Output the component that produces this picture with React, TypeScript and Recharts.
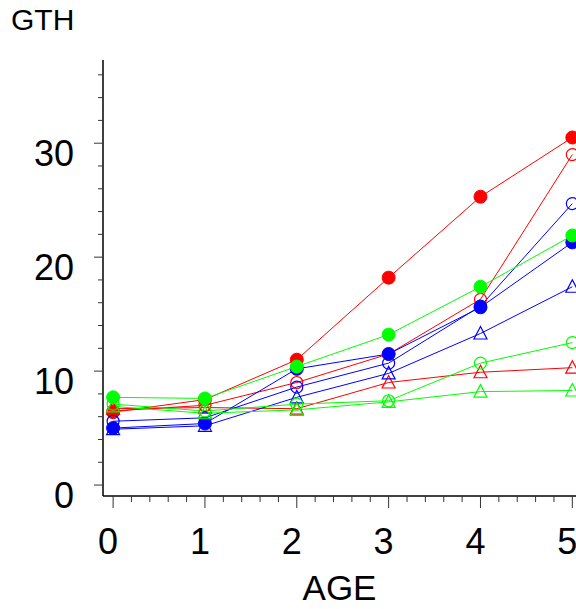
import { LineChart, Line, XAxis, YAxis } from "recharts";

const ages = [0, 1, 2, 3, 4, 5];

const redFilled = [6.4, 7.5, 11.0, 18.2, 25.3, 30.5];
const redOpen = [6.5, 7.0, 9.0, 11.5, 16.3, 29.0];
const redTri = [6.7, 6.8, 6.7, 9.0, 9.9, 10.3];
const greenFilled = [7.7, 7.6, 10.4, 13.2, 17.4, 21.9];
const greenOpen = [7.1, 6.5, 7.1, 7.4, 10.7, 12.5];
const greenTri = [6.9, 6.3, 6.6, 7.3, 8.2, 8.3];
const blueFilled = [5.0, 5.4, 10.2, 11.5, 15.6, 21.3];
const blueOpen = [5.6, 5.9, 8.6, 10.7, 15.7, 24.7];
const blueTri = [4.9, 5.2, 7.7, 9.8, 13.3, 17.4];

const xMajor = [0, 1, 2, 3, 4, 5];
const yMajor = [0, 10, 20, 30];

const xTicks: number[] = [];
for (let i = 0; i <= 25; i++) xTicks.push(Math.round(i * 2) / 10);
const yTicks: number[] = [];
for (let v = 0; v <= 36; v += 2) yTicks.push(v);

const RED = "#ff0000";
const GREEN = "#00ff00";
const BLUE = "#0000ff";
const FONT = '"Liberation Sans", Arial, sans-serif';

type Shape = "filled" | "open" | "tri";

const series: Array<{ key: string; color: string; shape: Shape; values: number[] }> = [
  { key: "redTri", color: RED, shape: "tri", values: redTri },
  { key: "redOpen", color: RED, shape: "open", values: redOpen },
  { key: "redFilled", color: RED, shape: "filled", values: redFilled },
  { key: "blueTri", color: BLUE, shape: "tri", values: blueTri },
  { key: "blueOpen", color: BLUE, shape: "open", values: blueOpen },
  { key: "blueFilled", color: BLUE, shape: "filled", values: blueFilled },
  { key: "greenTri", color: GREEN, shape: "tri", values: greenTri },
  { key: "greenOpen", color: GREEN, shape: "open", values: greenOpen },
  { key: "greenFilled", color: GREEN, shape: "filled", values: greenFilled },
];

const data = ages.map((age, i) => {
  const row: Record<string, number> = { age };
  series.forEach((s) => (row[s.key] = s.values[i]));
  return row;
});

function makeDot(shape: Shape, color: string) {
  return (props: any) => {
    const { cx, cy, index } = props;
    if (cx == null || cy == null) return <g key={index} />;
    if (shape === "filled")
      return <circle key={index} cx={cx} cy={cy} r={6.5} fill={color} stroke={color} />;
    if (shape === "open")
      return (
        <circle key={index} cx={cx} cy={cy} r={6} fill="none" stroke={color} strokeWidth={1.2} />
      );
    const pts = `${cx},${cy - 7} ${cx - 6.5},${cy + 5.5} ${cx + 6.5},${cy + 5.5}`;
    return <polygon key={index} points={pts} fill="none" stroke={color} strokeWidth={1.2} />;
  };
}

function YTick(props: any) {
  const { x, y, payload } = props;
  const major = yMajor.includes(payload.value);
  return (
    <g>
      <line x1={x} y1={y} x2={x - (major ? 9 : 5)} y2={y} stroke="#333" strokeWidth={1} />
      {major && (
        <text x={x - 29} y={y + 23} textAnchor="end" fontSize={36} fontFamily={FONT} fill="#000">
          {payload.value}
        </text>
      )}
    </g>
  );
}

function XTick(props: any) {
  const { x, y, payload } = props;
  const major = xMajor.includes(payload.value);
  return (
    <g>
      <line x1={x} y1={y} x2={x} y2={y + (major ? 12 : 6)} stroke="#333" strokeWidth={1} />
      {major && (
        <text x={x - 5} y={y + 58} textAnchor="middle" fontSize={36} fontFamily={FONT} fill="#000">
          {payload.value}
        </text>
      )}
    </g>
  );
}

export default function App() {
  return (
    <div style={{ position: "absolute", left: 0, top: 0, width: 576, height: 609, overflow: "hidden", background: "#fff" }}>
      <LineChart width={576} height={609} data={data} margin={{ top: 60, right: 0, bottom: 0, left: 0 }}>
        <XAxis
          dataKey="age"
          type="number"
          domain={[-0.11, 5.04]}
          ticks={xTicks}
          interval={0}
          tick={<XTick />}
          tickSize={0}
          tickMargin={0}
          tickLine={false}
          height={113}
          axisLine={{ stroke: "#000", strokeWidth: 1.5 }}
          label={{
            content: (p: any) => (
              <text
                x={p.viewBox.x + p.viewBox.width / 2}
                y={p.viewBox.y + 104}
                textAnchor="middle"
                fontSize={35}
                fontFamily={FONT}
                fill="#000"
              >
                AGE
              </text>
            ),
          }}
        />
        <YAxis
          type="number"
          domain={[-0.96, 37.3]}
          ticks={yTicks}
          interval={0}
          tick={<YTick />}
          tickSize={0}
          tickMargin={0}
          tickLine={false}
          width={103}
          axisLine={{ stroke: "#000", strokeWidth: 1.5 }}
          allowDataOverflow
          label={{
            content: () => (
              <text x={11} y={30} fontSize={30} fontFamily={FONT} fill="#000">
                GTH
              </text>
            ),
          }}
        />
        {series.map((s) => (
          <Line
            key={s.key}
            dataKey={s.key}
            stroke={s.color}
            strokeWidth={1}
            dot={makeDot(s.shape, s.color)}
            activeDot={false}
            isAnimationActive={false}
            type="linear"
          />
        ))}
      </LineChart>
    </div>
  );
}
